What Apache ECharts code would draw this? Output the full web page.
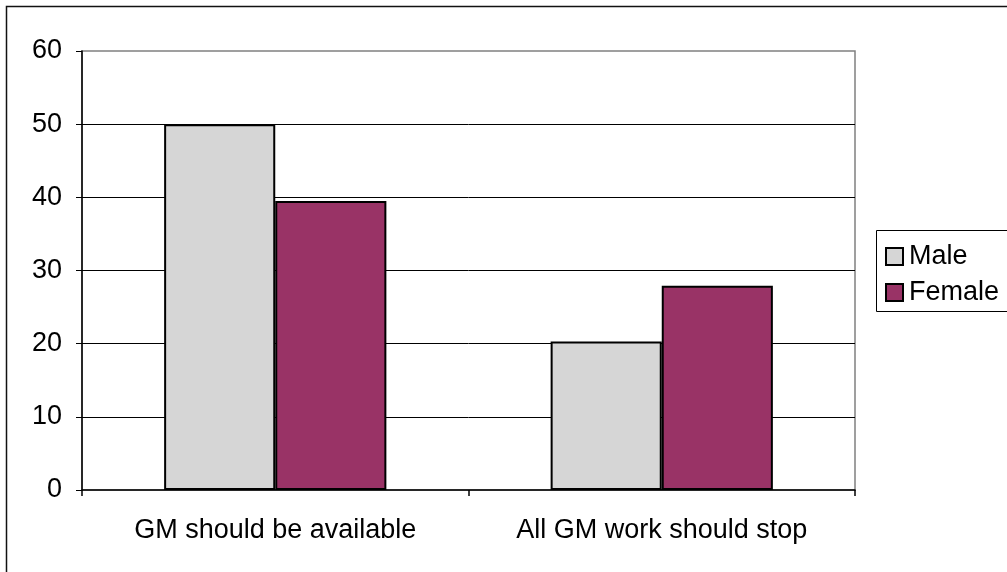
<!DOCTYPE html>
<html>
<head>
<meta charset="utf-8">
<style>
  html, body { margin: 0; padding: 0; background: #fff; }
  #chart { width: 1007px; height: 572px; }
</style>
<script src="https://cdn.jsdelivr.net/npm/echarts@6/dist/echarts.min.js"></script>
</head>
<body>
<div id="chart"></div>
<script>
// Survey responses on genetic modification, split by gender
const categories = ['GM should be available', 'All GM work should stop'];
const maleValues = [50, 20.3];
const femaleValues = [39.5, 27.9];
const yTicks = [0, 10, 20, 30, 40, 50, 60];

const FONT = "'Liberation Sans', Arial, sans-serif";

const chart = echarts.init(document.getElementById('chart'), null, { renderer: 'canvas' });

chart.setOption({
  backgroundColor: '#ffffff',
  animation: false,
  textStyle: { fontFamily: FONT },
  grid: {
    left: 82, right: 152, top: 51, bottom: 82,
    show: true,
    borderColor: '#808080',
    borderWidth: 1.5,
    backgroundColor: 'transparent',
    outerBoundsMode: 'none'
  },
  graphic: [
    {
      type: 'rect',
      shape: { x: 6.5, y: 6.5, width: 1200, height: 800 },
      style: { fill: 'none', stroke: '#111', lineWidth: 1.5 },
      silent: true
    },
    {
      type: 'rect',
      shape: { x: 876.5, y: 230.5, width: 200, height: 81 },
      style: { fill: 'none', stroke: '#000', lineWidth: 1 },
      silent: true
    }
  ],
  legend: {
    data: ['Male', 'Female'],
    orient: 'vertical',
    left: 880,
    top: 243,
    padding: [0, 0, 0, 5],
    icon: 'rect',
    itemWidth: 17,
    itemHeight: 17,
    itemGap: 9,
    itemStyle: { borderColor: '#000', borderWidth: 2 },
    textStyle: { fontSize: 27, color: '#000', fontFamily: FONT, padding: [0, 0, 0, 1] }
  },
  xAxis: {
    type: 'category',
    data: categories,
    axisLine: { show: true, lineStyle: { color: '#000', width: 1.5 } },
    axisTick: { show: true, alignWithLabel: false, length: 6, lineStyle: { color: '#000', width: 1.5 } },
    axisLabel: { fontSize: 27, color: '#000', margin: 27, fontFamily: FONT },
    splitLine: { show: false }
  },
  yAxis: {
    type: 'value',
    min: yTicks[0],
    max: yTicks[yTicks.length - 1],
    interval: yTicks[1] - yTicks[0],
    axisLine: { show: true, lineStyle: { color: '#000', width: 1.5 } },
    axisTick: { show: true, length: 6, lineStyle: { color: '#000', width: 1 } },
    axisLabel: { fontSize: 27, color: '#000', margin: 20, fontFamily: FONT, padding: [3, 0, 0, 0] },
    splitLine: {
      show: true,
      showMinLine: false,
      showMaxLine: false,
      lineStyle: { color: '#000', width: 1 }
    }
  },
  series: [
    {
      name: 'Male',
      type: 'bar',
      data: maleValues,
      barGap: '0%',
      barCategoryGap: '42.5%',
      itemStyle: { color: '#d6d6d6', borderColor: '#000', borderWidth: 2 }
    },
    {
      name: 'Female',
      type: 'bar',
      data: femaleValues,
      itemStyle: { color: '#993366', borderColor: '#000', borderWidth: 2 }
    }
  ]
});
</script>
</body>
</html>
